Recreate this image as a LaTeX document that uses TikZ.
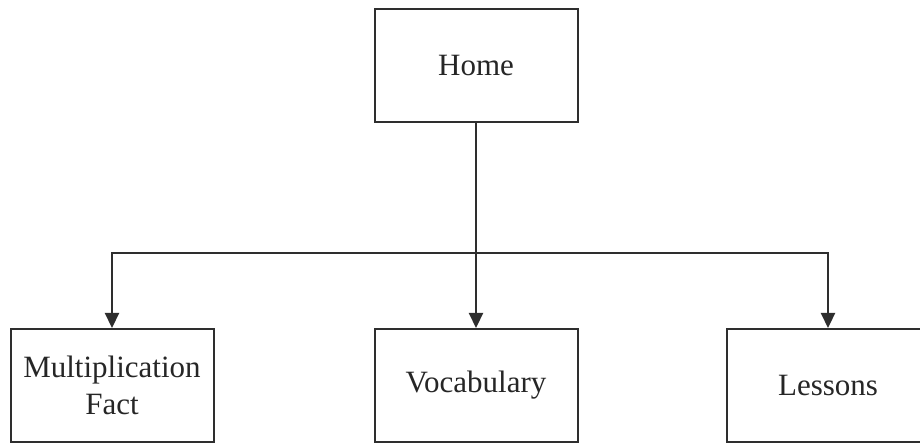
\documentclass[tikz,border=0pt]{standalone}
\usepackage{fontspec}
\setmainfont{Liberation Serif}
\usetikzlibrary{arrows.meta}
\definecolor{lncol}{HTML}{2E2E2E}
\tikzset{
  box/.style={draw=lncol, line width=2pt, fill=white, minimum width=203pt, minimum height=113pt,
    inner sep=0pt, align=center, font=\fontsize{31}{37}\selectfont, text=black!85},
  txt/.style={inner sep=0pt, align=center, font=\fontsize{31}{37}\selectfont, text=black!85},
  arr/.style={draw=lncol, line width=2.2pt, -{Triangle[width=14pt,length=15pt]}},
  conn/.style={draw=lncol, line width=2.2pt}
}
\begin{document}
\begin{tikzpicture}[x=1pt,y=1pt]
\useasboundingbox (0,0) rectangle (920,-443);
\node[box] (home) at (476,-66) {Home};
\node[box] (mult) at (112,-385.5) {Multiplication\\Fact};
\node[box] (vocab) at (476,-385.5) {Vocabulary};
\node[box, minimum width=260pt, anchor=west] (less) at (726,-385.5) {};
\node[txt] (lesst) at (828,-385.5) {Lessons};
\coordinate (junc) at (476,-253);
\draw[conn] (home.south) -- (junc);
\draw[arr] (junc) -- (vocab.north);
\draw[arr] (junc) -| (mult.north);
\draw[arr] (junc) -| (lesst |- less.north);
\end{tikzpicture}
\end{document}
